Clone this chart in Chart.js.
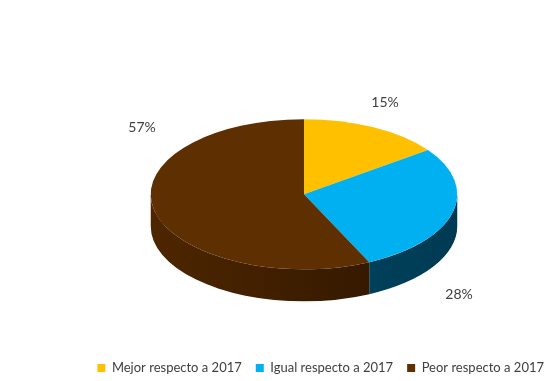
<!DOCTYPE html>
<html>
<head>
<meta charset="utf-8">
<script src="https://cdn.jsdelivr.net/npm/chart.js@4.4.1/dist/chart.umd.min.js"></script>
<style>
  html, body { margin: 0; padding: 0; background: #fff; }
</style>
</head>
<body>
<canvas id="chart" width="558" height="381"></canvas>
<script>
const categories = ['Mejor respecto a 2017', 'Igual respecto a 2017', 'Peor respecto a 2017']
const percents = [15, 28, 57]

const topColors = ['#FFC000', '#00B0F0', '#5E2F00']
const sideColors = [['#9a7400', '#7a5c00'], ['#004e6e', '#003a52'], ['#4e2600', '#2b1400']]

// look of the fake 3D pie
const tilt = 0.49
const depth = 32
const labelOffsets = [[81, -92], [155, 100], [-162, -67]]

const ctx = document.getElementById('chart')

const pie3d = {
    id: 'pie3d',
    beforeDatasetsDraw(chart) {
        const c = chart.ctx
        const arcs = chart.getDatasetMeta(0).data
        const x = arcs[0].x
        const y = arcs[0].y
        const r = arcs[0].outerRadius
        // side walls, only the front half (0..PI) is visible
        arcs.forEach((arc, i) => {
            const a1 = Math.max(arc.startAngle, 0)
            const a2 = Math.min(arc.endAngle, Math.PI)
            if (a2 <= a1) return
            const grad = c.createLinearGradient(x - r, 0, x + r, 0)
            grad.addColorStop(0, sideColors[i][0])
            grad.addColorStop(1, sideColors[i][1])
            c.beginPath()
            c.ellipse(x, y, r, r * tilt, 0, a1, a2)
            c.lineTo(x + r * Math.cos(a2), y + r * tilt * Math.sin(a2) + depth)
            c.ellipse(x, y + depth, r, r * tilt, 0, a2, a1, true)
            c.closePath()
            c.fillStyle = grad
            c.fill()
        })
        c.save()
        c.translate(x, y)
        c.scale(1, tilt)
        c.translate(-x, -y)
    },
    afterDatasetsDraw(chart) {
        chart.ctx.restore()
    },
    afterDraw(chart) {
        const c = chart.ctx
        const arc = chart.getDatasetMeta(0).data[0]
        c.save()
        c.font = '14px Lato'
        c.fillStyle = '#404040'
        c.textAlign = 'center'
        c.textBaseline = 'middle'
        percents.forEach((p, i) => {
            c.fillText(p + '%', arc.x + labelOffsets[i][0], arc.y + labelOffsets[i][1])
        })
        c.restore()
    }
}

new Chart(ctx, {
    type: 'pie',
    data: {
        labels: categories,
        datasets: [{
            data: percents,
            backgroundColor: topColors,
            borderWidth: 0
        }]
    },
    options: {
        responsive: false,
        animation: false,
        events: [],
        layout: {
            padding: { top: 41, left: 50, right: 0, bottom: -3.5 }
        },
        plugins: {
            legend: {
                position: 'bottom',
                align: 'end',
                labels: {
                    font: { family: 'Lato', size: 13 },
                    color: '#404040',
                    boxWidth: 8,
                    boxHeight: 8,
                    padding: 14
                }
            },
            tooltip: { enabled: false }
        }
    },
    plugins: [pie3d]
});
</script>
</body>
</html>
